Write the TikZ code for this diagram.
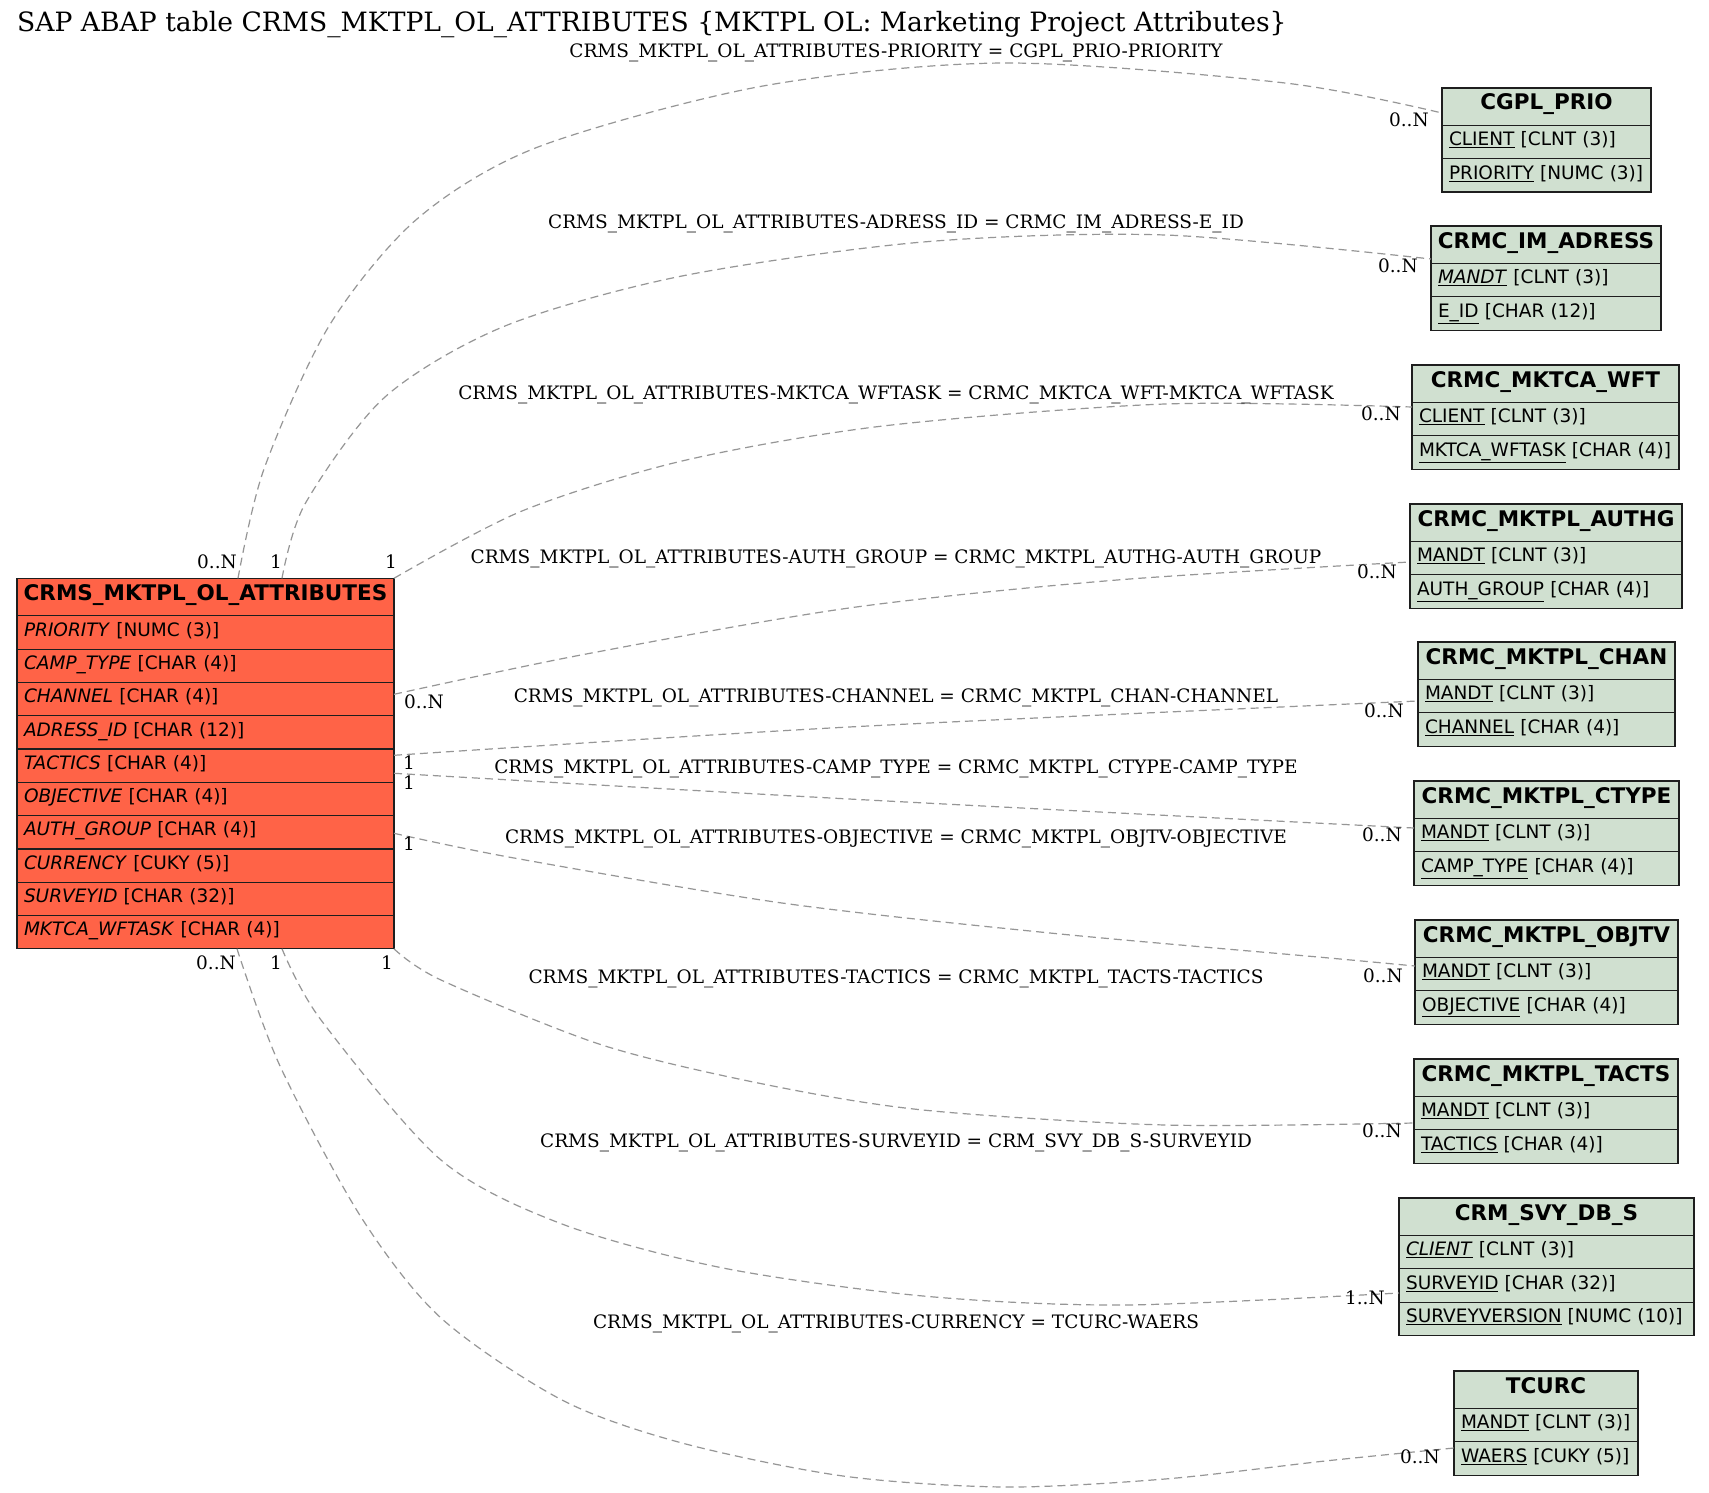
\documentclass[tikz,border=0pt]{standalone}
\usepackage{fontspec}
\setmainfont{DejaVu Serif}
\newfontfamily\sapsans{DejaVu Sans}
\definecolor{mainfill}{RGB}{255,99,71}
\definecolor{relfill}{RGB}{208,224,208}
\definecolor{edgegray}{RGB}{150,150,150}
\definecolor{boxline}{RGB}{30,30,30}
\newcommand\hdrfont{\sapsans\bfseries\fontsize{21.5}{24}\selectfont}
\newcommand\fldfont{\sapsans\fontsize{18.5}{21}\selectfont}
\newcommand\lblfont{\fontsize{18.5}{20}\selectfont}
\newcommand\sapR[6]{\node[fld=#5, minimum width=#3pt, text width=#4pt] (#2) at (#1.south west) {#6};}
\tikzset{
 hdr/.style={draw=boxline, line width=1.2pt, fill=#1, anchor=north west, outer sep=0pt, inner sep=0pt, minimum height=37.5pt, font=\hdrfont, text height=15pt, text depth=8.5pt},
 fld/.style={draw=boxline, line width=1.2pt, fill=#1, anchor=north west, outer sep=0pt, inner xsep=7pt, inner ysep=0pt, minimum height=33.3pt, font=\fldfont, text height=13.5pt, text depth=6.1pt, align=left},
 rel/.style={draw=edgegray, line width=1.2pt, dash pattern=on 8pt off 5pt},
 card/.style={font=\lblfont, inner sep=0pt, anchor=base},
 cardr/.style={font=\lblfont, inner sep=0pt, anchor=base east},
 rlab/.style={font=\lblfont, inner sep=0pt, anchor=base},
}
\begin{document}
\begin{tikzpicture}[x=1pt,y=-1pt]
\fill[white] (0,0) rectangle (1709,1493);
\useasboundingbox (0,0) rectangle (1709,1493);

\node[font=\fontsize{26.6}{28}\selectfont, inner sep=0pt, anchor=base west] (title) at (17,31.7)
  {SAP ABAP table CRMS\_MKTPL\_OL\_ATTRIBUTES \{MKTPL OL: Marketing Project Attributes\}};

% main table
\node[hdr=mainfill, minimum width=377pt] (main) at (17,578.3) {CRMS\_MKTPL\_OL\_ATTRIBUTES};
\sapR{main}{main-1}{377}{363}{mainfill}{\textit{PRIORITY} [NUMC (3)]}
\sapR{main-1}{main-2}{377}{363}{mainfill}{\textit{CAMP\_TYPE} [CHAR (4)]}
\sapR{main-2}{main-3}{377}{363}{mainfill}{\textit{CHANNEL} [CHAR (4)]}
\sapR{main-3}{main-4}{377}{363}{mainfill}{\textit{ADRESS\_ID} [CHAR (12)]}
\sapR{main-4}{main-5}{377}{363}{mainfill}{\textit{TACTICS} [CHAR (4)]}
\sapR{main-5}{main-6}{377}{363}{mainfill}{\textit{OBJECTIVE} [CHAR (4)]}
\sapR{main-6}{main-7}{377}{363}{mainfill}{\textit{AUTH\_GROUP} [CHAR (4)]}
\sapR{main-7}{main-8}{377}{363}{mainfill}{\textit{CURRENCY} [CUKY (5)]}
\sapR{main-8}{main-9}{377}{363}{mainfill}{\textit{SURVEYID} [CHAR (32)]}
\sapR{main-9}{main-10}{377}{363}{mainfill}{\textit{MKTCA\_WFTASK} [CHAR (4)]}

% right tables
\node[hdr=relfill, minimum width=209pt] (cgpl) at (1442,88) {CGPL\_PRIO};
\sapR{cgpl}{cgpl-1}{209}{195}{relfill}{\underline{CLIENT} [CLNT (3)]}
\sapR{cgpl-1}{cgpl-2}{209}{195}{relfill}{\underline{PRIORITY} [NUMC (3)]}

\node[hdr=relfill, minimum width=230pt] (adr) at (1431,226) {CRMC\_IM\_ADRESS};
\sapR{adr}{adr-1}{230}{216}{relfill}{\underline{\textit{MANDT}} [CLNT (3)]}
\sapR{adr-1}{adr-2}{230}{216}{relfill}{\underline{E\_ID} [CHAR (12)]}

\node[hdr=relfill, minimum width=267pt] (wft) at (1412,365) {CRMC\_MKTCA\_WFT};
\sapR{wft}{wft-1}{267}{253}{relfill}{\underline{CLIENT} [CLNT (3)]}
\sapR{wft-1}{wft-2}{267}{253}{relfill}{\underline{MKTCA\_WFTASK} [CHAR (4)]}

\node[hdr=relfill, minimum width=272pt] (authg) at (1410,504) {CRMC\_MKTPL\_AUTHG};
\sapR{authg}{authg-1}{272}{258}{relfill}{\underline{MANDT} [CLNT (3)]}
\sapR{authg-1}{authg-2}{272}{258}{relfill}{\underline{AUTH\_GROUP} [CHAR (4)]}

\node[hdr=relfill, minimum width=257pt] (chan) at (1418,642) {CRMC\_MKTPL\_CHAN};
\sapR{chan}{chan-1}{257}{243}{relfill}{\underline{MANDT} [CLNT (3)]}
\sapR{chan-1}{chan-2}{257}{243}{relfill}{\underline{CHANNEL} [CHAR (4)]}

\node[hdr=relfill, minimum width=265pt] (ctype) at (1414,781) {CRMC\_MKTPL\_CTYPE};
\sapR{ctype}{ctype-1}{265}{251}{relfill}{\underline{MANDT} [CLNT (3)]}
\sapR{ctype-1}{ctype-2}{265}{251}{relfill}{\underline{CAMP\_TYPE} [CHAR (4)]}

\node[hdr=relfill, minimum width=263pt] (objtv) at (1415,920) {CRMC\_MKTPL\_OBJTV};
\sapR{objtv}{objtv-1}{263}{249}{relfill}{\underline{MANDT} [CLNT (3)]}
\sapR{objtv-1}{objtv-2}{263}{249}{relfill}{\underline{OBJECTIVE} [CHAR (4)]}

\node[hdr=relfill, minimum width=264pt] (tacts) at (1414,1059) {CRMC\_MKTPL\_TACTS};
\sapR{tacts}{tacts-1}{264}{250}{relfill}{\underline{MANDT} [CLNT (3)]}
\sapR{tacts-1}{tacts-2}{264}{250}{relfill}{\underline{TACTICS} [CHAR (4)]}

\node[hdr=relfill, minimum width=295pt] (svy) at (1399,1198) {CRM\_SVY\_DB\_S};
\sapR{svy}{svy-1}{295}{281}{relfill}{\underline{\textit{CLIENT}} [CLNT (3)]}
\sapR{svy-1}{svy-2}{295}{281}{relfill}{\underline{SURVEYID} [CHAR (32)]}
\sapR{svy-2}{svy-3}{295}{281}{relfill}{\underline{SURVEYVERSION} [NUMC (10)]}

\node[hdr=relfill, minimum width=184pt] (tcurc) at (1454,1371) {TCURC};
\sapR{tcurc}{tcurc-1}{184}{170}{relfill}{\underline{MANDT} [CLNT (3)]}
\sapR{tcurc-1}{tcurc-2}{184}{170}{relfill}{\underline{WAERS} [CUKY (5)]}

% connector end points
\coordinate (s1) at ([xshift=221pt]main.north west);
\coordinate (s2) at ([xshift=265pt]main.north west);
\coordinate (s3) at (main.north east);
\coordinate (s4) at ([yshift=-116pt]main.north east);
\coordinate (s5) at ([yshift=-177pt]main.north east);
\coordinate (s6) at ([yshift=-195pt]main.north east);
\coordinate (s7) at ([yshift=-255pt]main.north east);
\coordinate (s8) at (main-10.south east);
\coordinate (s9) at ([xshift=265pt]main-10.south west);
\coordinate (s10) at ([xshift=220pt]main-10.south west);

\coordinate (e1) at ([yshift=-25pt]cgpl.north west);
\coordinate (e2) at ([yshift=-33pt]adr.north west);
\coordinate (e3) at ([yshift=-42pt]wft.north west);
\coordinate (e4) at ([yshift=-58pt]authg.north west);
\coordinate (e5) at ([yshift=-59pt]chan.north west);
\coordinate (e6) at ([yshift=-47pt]ctype.north west);
\coordinate (e7) at ([yshift=-46pt]objtv.north west);
\coordinate (e8) at ([yshift=-64pt]tacts.north west);
\coordinate (e9) at ([yshift=-95pt]svy.north west);
\coordinate (e10) at ([yshift=-77pt]tcurc.north west);

% connectors
\draw[rel] plot[smooth] coordinates {(s1) (264,469) (329,326) (417,219) (538,147) (763,86) (1004,63) (1285,83) (e1)};
\draw[rel] plot[smooth] coordinates {(s2) (305,504) (385,397) (505,326) (682,276) (923,242) (1165,235) (e2)};
\draw[rel] plot[smooth] coordinates {(s3) (522,511) (682,461) (883,426) (1165,404) (e3)};
\draw[rel] plot[smooth] coordinates {(s4) (581,655) (849,608) (1117,580) (e4)};
\draw[rel] plot[smooth] coordinates {(s5) (849,727) (e5)};
\draw[rel] plot[smooth] coordinates {(s6) (849,799) (e6)};
\draw[rel] plot[smooth] coordinates {(s7) (514,858) (782,903) (1050,933) (1318,957) (e7)};
\draw[rel] plot[smooth] coordinates {(s8) (441,980) (602,1045) (763,1084) (923,1110) (1165,1125) (e8)};
\draw[rel] plot[smooth] coordinates {(s9) (321,1020) (441,1160) (562,1224) (723,1268) (923,1296) (1124,1305) (e9)};
\draw[rel] plot[smooth] coordinates {(s10) (280,1066) (361,1217) (441,1318) (562,1400) (682,1443) (843,1476) (1004,1487) (1165,1479) (1325,1461) (e10)};

% relation labels
\node[rlab] (l1) at (896,58) {CRMS\_MKTPL\_OL\_ATTRIBUTES-PRIORITY = CGPL\_PRIO-PRIORITY};
\node[rlab] (l2) at (896,228.5) {CRMS\_MKTPL\_OL\_ATTRIBUTES-ADRESS\_ID = CRMC\_IM\_ADRESS-E\_ID};
\node[rlab] (l3) at (896,399.5) {CRMS\_MKTPL\_OL\_ATTRIBUTES-MKTCA\_WFTASK = CRMC\_MKTCA\_WFT-MKTCA\_WFTASK};
\node[rlab] (l4) at (896,563) {CRMS\_MKTPL\_OL\_ATTRIBUTES-AUTH\_GROUP = CRMC\_MKTPL\_AUTHG-AUTH\_GROUP};
\node[rlab] (l5) at (896,702) {CRMS\_MKTPL\_OL\_ATTRIBUTES-CHANNEL = CRMC\_MKTPL\_CHAN-CHANNEL};
\node[rlab] (l6) at (896,773) {CRMS\_MKTPL\_OL\_ATTRIBUTES-CAMP\_TYPE = CRMC\_MKTPL\_CTYPE-CAMP\_TYPE};
\node[rlab] (l7) at (896,843) {CRMS\_MKTPL\_OL\_ATTRIBUTES-OBJECTIVE = CRMC\_MKTPL\_OBJTV-OBJECTIVE};
\node[rlab] (l8) at (896,983.5) {CRMS\_MKTPL\_OL\_ATTRIBUTES-TACTICS = CRMC\_MKTPL\_TACTS-TACTICS};
\node[rlab] (l9) at (896,1147.5) {CRMS\_MKTPL\_OL\_ATTRIBUTES-SURVEYID = CRM\_SVY\_DB\_S-SURVEYID};
\node[rlab] (l10) at (896,1328.5) {CRMS\_MKTPL\_OL\_ATTRIBUTES-CURRENCY = TCURC-WAERS};

% cardinalities at main table
\node[card] (c1a) at (217,568) {0..N};
\node[card] (c2a) at (276,568) {1};
\node[card] (c3a) at (391,568) {1};
\node[card] (c4a) at (424,708) {0..N};
\node[card] (c5a) at (409,769) {1};
\node[card] (c6a) at (409,789) {1};
\node[card] (c7a) at (409,850) {1};
\node[card] (c8a) at (387,969) {1};
\node[card] (c9a) at (276,969) {1};
\node[card] (c10a) at (216,969) {0..N};

% cardinalities at related tables
\node[cardr] (c1b) at ([xshift=-13pt,yshift=-39pt]cgpl.north west) {0..N};
\node[cardr] (c2b) at ([xshift=-13pt,yshift=-46pt]adr.north west) {0..N};
\node[cardr] (c3b) at ([xshift=-11pt,yshift=-55pt]wft.north west) {0..N};
\node[cardr] (c4b) at ([xshift=-13pt,yshift=-74pt]authg.north west) {0..N};
\node[cardr] (c5b) at ([xshift=-14pt,yshift=-75pt]chan.north west) {0..N};
\node[cardr] (c6b) at ([xshift=-12pt,yshift=-60pt]ctype.north west) {0..N};
\node[cardr] (c7b) at ([xshift=-12pt,yshift=-62pt]objtv.north west) {0..N};
\node[cardr] (c8b) at ([xshift=-12pt,yshift=-78pt]tacts.north west) {0..N};
\node[cardr] (c9b) at ([xshift=-14pt,yshift=-106pt]svy.north west) {1..N};
\node[cardr] (c10b) at ([xshift=-14pt,yshift=-92pt]tcurc.north west) {0..N};
\end{tikzpicture}
\end{document}
